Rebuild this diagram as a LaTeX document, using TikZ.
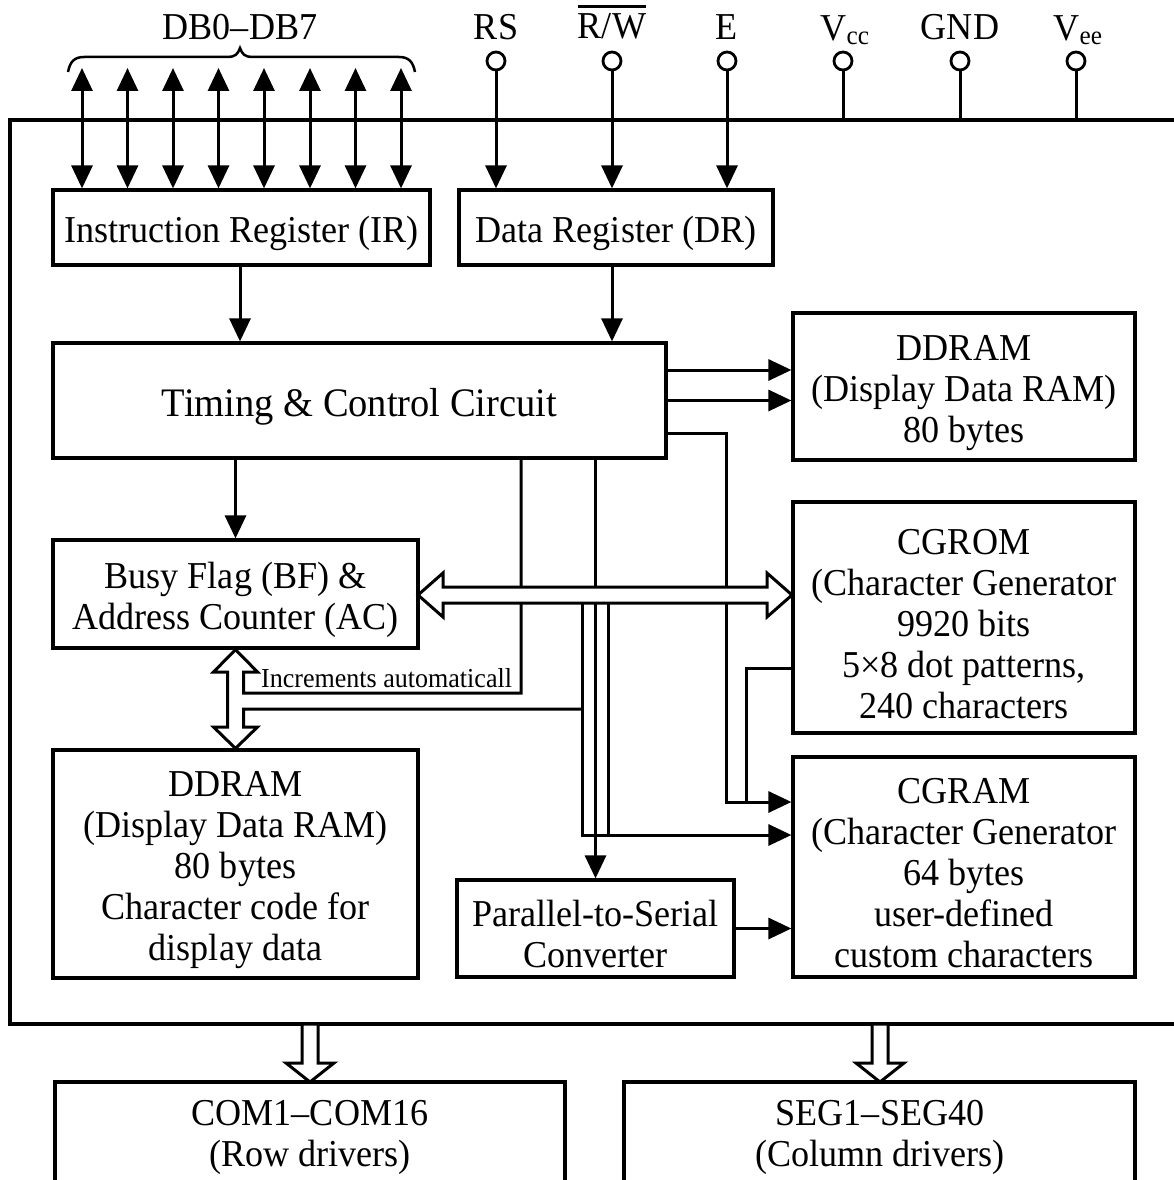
\documentclass[tikz,border=0pt]{standalone}
\usepackage{fontspec}
\setmainfont[FakeStretch=0.95]{Liberation Serif}
\usetikzlibrary{arrows.meta,calc}
\newcommand\mainfs{\fontsize{38pt}{41pt}\selectfont}
\newcommand\bigfs{\fontsize{40.5pt}{44pt}\selectfont}
\newcommand\smallfs{\fontsize{27.4pt}{30pt}\selectfont}
\newcommand\tstrut{\rule{0pt}{38pt}}
\newcommand\barred[1]{\setbox0\hbox{#1}\rlap{\rule[31pt]{\wd0}{2.6pt}}\box0}
\begin{document}
\begin{tikzpicture}[x=1pt,y=-1pt,
  box/.style={draw, line width=3.2pt, inner sep=0pt, align=center, font=\mainfs},
  lbl/.style={inner sep=0pt, align=center, font=\mainfs},
  bl/.style={line width=3pt, line join=miter},
  arr/.style={bl, -{Triangle[length=23pt,width=21pt]}},
  darr/.style={bl, {Triangle[length=23pt,width=21pt]}-{Triangle[length=23pt,width=21pt]}},
  hol/.style={draw, fill=white, line width=3pt, line join=miter},
  pinc/.style={circle, draw, line width=2.8pt, minimum size=18pt, inner sep=0pt}]
\useasboundingbox (0,0) rectangle (1174,1180);

% outer chip outline
\draw[line width=3.2pt] (1174,120) -- (10,120) -- (10,1024) -- (1174,1024);
\coordinate (otop) at (0,120);
\coordinate (obot) at (0,1024);

% boxes
\node[box, minimum width=377pt, minimum height=75pt] (ir) at (241.5,227.5) {\tstrut Instruction Register (IR)};
\node[box, minimum width=314pt, minimum height=75pt] (dr) at (616,227.5) {\tstrut Data Register (DR)};
\node[box, minimum width=613pt, minimum height=115pt, font=\bigfs] (tc) at (359.5,400.5) {\rule{0pt}{40pt}Timing \& Control Circuit};
\node[box, minimum width=342pt, minimum height=147pt] (ddr1) at (964,386.5) {\tstrut DDRAM\\(Display Data RAM)\\80 bytes};
\node[box, minimum width=342pt, minimum height=231pt] (cgrom) at (964,617.5) {\tstrut CGROM\\(Character Generator\\9920 bits\\5×8 dot patterns,\\240 characters};
\node[box, minimum width=342pt, minimum height=220pt] (cgram) at (964,867) {\tstrut CGRAM\\(Character Generator\\64 bytes\\user-defined\\custom characters};
\node[box, minimum width=365pt, minimum height=108pt] (bf) at (235.5,594) {\tstrut Busy Flag (BF) \&\\Address Counter (AC)};
\node[box, minimum width=365pt, minimum height=228pt] (ddr2) at (235.5,864) {\tstrut DDRAM\\(Display Data RAM)\\80 bytes\\Character code for\\display data};
\node[box, minimum width=277pt, minimum height=97pt] (p2s) at (595.5,928.5) {\tstrut Parallel-to-Serial\\Converter};

% bottom driver boxes (cut by page edge)
\draw[line width=3.2pt] (55,1180) -- (55,1082) -- (565,1082) -- (565,1180);
\draw[line width=3.2pt] (624,1180) -- (624,1082) -- (1135,1082) -- (1135,1180);
\coordinate (comtop) at (310,1082);
\coordinate (segtop) at (880,1082);
\node[lbl] (com) at (310,1131) {\tstrut COM1–COM16\\(Row drivers)};
\node[lbl] (seg) at (880,1131) {\tstrut SEG1–SEG40\\(Column drivers)};

% top labels and pins
\node[lbl] (ldb) at (240,27) {DB0–DB7};
\node[lbl] (lrs) at (496,27) {RS};
\node[lbl, anchor=base] (lrw) at (612,39) {\barred{R/W}};
\node[lbl] (le) at (727,27) {E};
\node[lbl] (lvcc) at (845,30) {V\textsubscript{cc}};
\node[lbl] (lgnd) at (960,27) {GND};
\node[lbl] (lvee) at (1078,30) {V\textsubscript{ee}};
\node[pinc] (prs) at (496,61) {};
\node[pinc] (prw) at (612,61) {};
\node[pinc] (pe) at (727,61) {};
\node[pinc] (pvcc) at (843,61) {};
\node[pinc] (pgnd) at (960,61) {};
\node[pinc] (pvee) at (1076,61) {};

% brace
\draw[line width=2.5pt] (68,72) .. controls (70,62) and (74,57) .. (84,57) -- (228,57)
  .. controls (235,57) and (238,54) .. (240,48) .. controls (242,54) and (245,57) .. (252,57)
  -- (399,57) .. controls (409,57) and (413,62) .. (415,72);

% data bus
\foreach \i/\x in {1/82,2/127.5,3/173,4/218.5,5/264,6/310,7/355.5,8/401} {
  \coordinate (db\i) at (\x,68);
  \draw[darr] (db\i) -- (db\i |- ir.north);
}

% control pins
\draw[arr] (prs.south) -- (prs.south |- dr.north);
\draw[arr] (prw.south) -- (prw.south |- dr.north);
\draw[arr] (pe.south) -- (pe.south |- dr.north);
\draw[bl] (pvcc.south) -- (pvcc.south |- otop);
\draw[bl] (pgnd.south) -- (pgnd.south |- otop);
\draw[bl] (pvee.south) -- (pvee.south |- otop);

% register -> timing
\draw[arr] (ir.south -| 240,0) -- (tc.north -| 240,0);
\draw[arr] (dr.south -| 612,0) -- (tc.north -| 612,0);
% timing -> BF
\draw[arr] (tc.south -| 235.5,0) -- (bf.north);
% timing -> DDRAM
\draw[arr] ($(tc.east)+(0,-30.5)$) -- ($(tc.east -| ddr1.west)+(0,-30.5)$);
\draw[arr] (tc.east) -- (tc.east -| ddr1.west);
% timing -> CGRAM
\draw[arr] ($(tc.east)+(0,32.5)$) -- (726,433) -- (726,802) -- (cgram.west |- 0,802);
% CGROM -> CGRAM
\draw[bl] (cgrom.west |- 0,668) -- (746,668) -- (746,802);
% timing -> P2S
\draw[arr] (tc.south -| p2s.north) -- (p2s.north);
% bus lines to CGRAM
\draw[arr] (582,603) -- (582,835) -- (cgram.west |- 0,835);
\draw[bl] (608,603) -- (608,835);
% P2S -> CGRAM
\draw[arr] (p2s.east) -- (p2s.east -| cgram.west);

% increment path and BF<->DDRAM hollow arrow
\draw[bl] (tc.south -| 521,0) -- (521,693) -- (243.5,693) -- (243.5,672) -- (257.5,672)
  -- (bf.south) -- (213.5,672) -- (227.5,672) -- (227.5,727) -- (213.5,727)
  -- (ddr2.north) -- (257.5,727) -- (243.5,727) -- (243.5,709) -- (582,709);
\node[inner sep=0pt, font=\smallfs, anchor=base west] (inc) at (261,687) {Increments automaticall};

% BF <-> CGROM hollow double arrow
\coordinate (hl) at (418,595);
\coordinate (hr) at (792,595);
\draw[hol] (hl) -- ++(25,-22) -- ++(0,14) -- ($(hr)+(-25,-8)$) -- ++(0,-14) -- (hr)
  -- ++(-25,22) -- ++(0,-14) -- ($(hl)+(25,8)$) -- ++(0,14) -- cycle;

% bottom hollow arrows
\foreach \c in {comtop,segtop} {
  \draw[hol] (\c) -- ++(-24,-19) -- ++(16,0) -- ($(\c |- obot)+(-8,0)$) -- ($(\c |- obot)+(8,0)$)
    -- ($(\c)+(8,-19)$) -- ++(16,0) -- cycle;
}
\end{tikzpicture}
\end{document}
